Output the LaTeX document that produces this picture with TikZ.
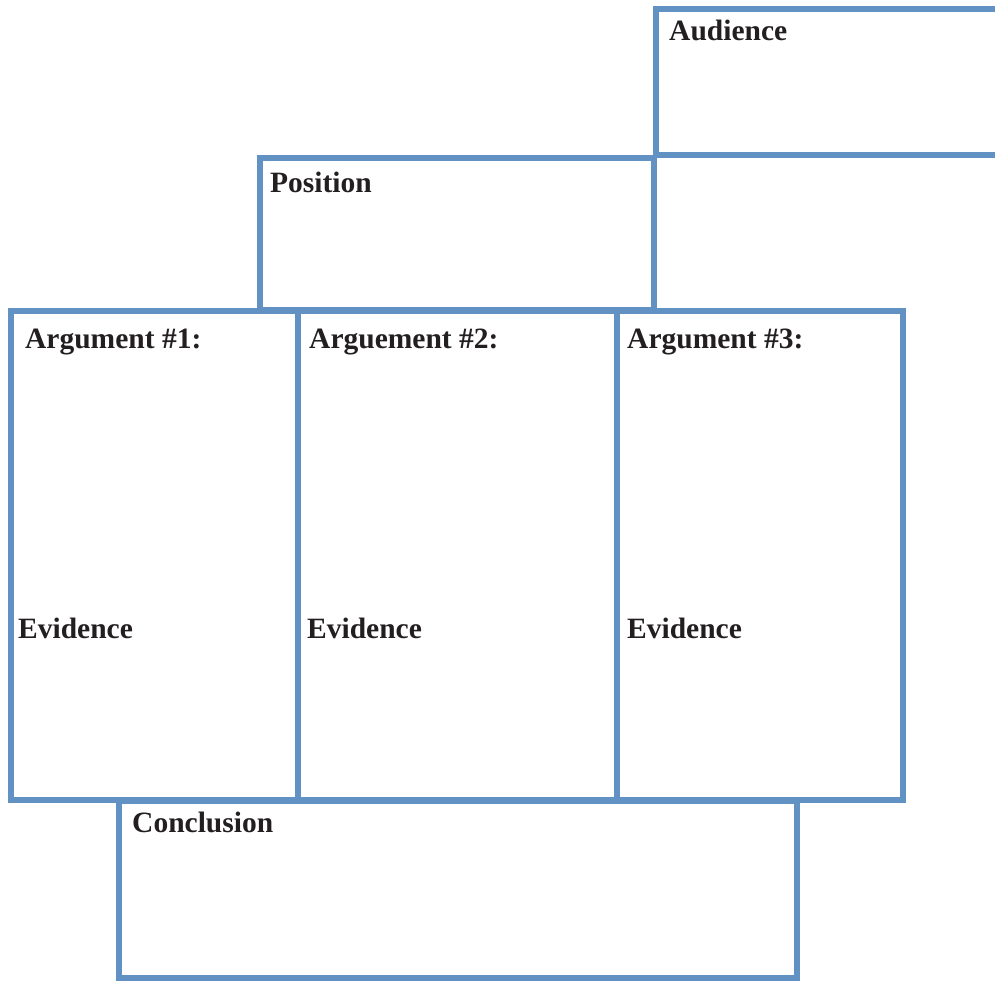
\documentclass[tikz,border=0pt]{standalone}
\usepackage{fontspec}
\setmainfont{Liberation Serif}
\definecolor{boxblue}{RGB}{98,146,196}
\definecolor{inkdark}{RGB}{35,31,32}
\tikzset{
  x=1pt, y=-1pt,
  frame/.style={draw=boxblue, line width=6pt, inner sep=0pt, outer sep=0pt, rectangle},
  lbl/.style={anchor=base west, inner sep=0pt, text=inkdark, font=\fontsize{29.5}{34}\selectfont\bfseries}
}
\newcommand{\boxat}[5]{% name, x1, y1, x2, y2
  \node[frame, minimum width=#4pt-#2pt, minimum height=#5pt-#3pt] (#1) at ({(#2+#4)/2},{(#3+#5)/2}) {};}
\begin{document}
\begin{tikzpicture}
\useasboundingbox (0,0) rectangle (995,982);
\clip (0,0) rectangle (995,982);
% planning frames
\boxat{aud}{656}{9}{1010}{155}
\boxat{pos}{260}{158}{654}{310}
\boxat{argA}{11}{311}{298}{800}
\boxat{argB}{298}{311}{617}{800}
\boxat{argC}{617}{311}{903}{800}
\boxat{concl}{119}{801}{797}{978}
% headings
\node[lbl] (audT) at (669,41) {Audience};
\node[lbl] (posT) at (270,192) {Position};
\node[lbl] (argAT) at (25,348) {Argument \#1:};
\node[lbl] (argBT) at (309,348) {Arguement \#2:};
\node[lbl] (argCT) at (627,348) {Argument \#3:};
\node[lbl] (evA) at (18,638) {Evidence};
\node[lbl] (evB) at (307,638) {Evidence};
\node[lbl] (evC) at (627,638) {Evidence};
\node[lbl] (conclT) at (132,832) {Conclusion};
\end{tikzpicture}
\end{document}
